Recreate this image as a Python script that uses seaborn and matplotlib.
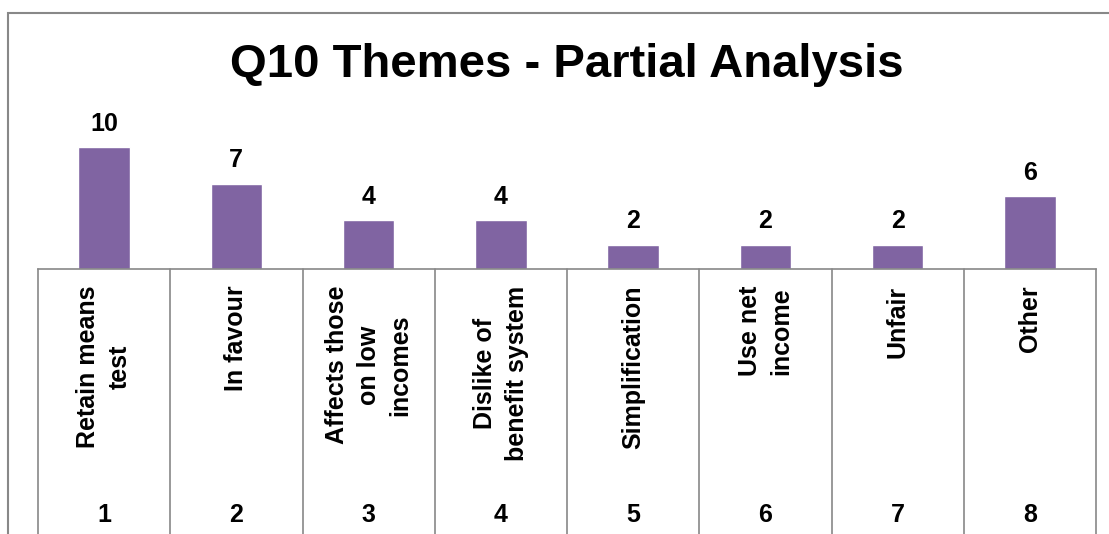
import matplotlib
matplotlib.use("Agg")
import matplotlib.pyplot as plt
import seaborn as sns
from matplotlib.patches import Rectangle

# chart data
themes = ["Retain means\ntest", "In favour", "Affects those\non low\nincomes",
          "Dislike of\nbenefit system", "Simplification", "Use net\nincome",
          "Unfair", "Other"]
theme_numbers = ["1", "2", "3", "4", "5", "6", "7", "8"]
counts = [10, 7, 4, 4, 2, 2, 2, 6]

bar_color = "#8064A2"
line_color = "#888888"

sns.set_style("white")
plt.rcParams["font.family"] = ["Liberation Sans", "DejaVu Sans"]
plt.rcParams["font.weight"] = "bold"
plt.rcParams["text.color"] = "black"
plt.rcParams["xtick.color"] = "black"

W, H = 1109, 534
fig = plt.figure(figsize=(W / 100, H / 100), dpi=100)

# plot area in pixel terms (from the top-left corner)
left, right, base = 38, 1096, 269
ymax = 12
px_per_unit = 12.2
top = base - ymax * px_per_unit
ax = fig.add_axes([left / W, 1 - base / H, (right - left) / W, (base - top) / H])

sns.barplot(x=list(range(len(counts))), y=counts, color=bar_color,
            width=0.39, saturation=1, ax=ax)
ax.set_xlim(-0.5, len(counts) - 0.5)
ax.set_ylim(0, ymax)

for c in ax.containers:
    ax.bar_label(c, fontsize=18, fontweight="bold", padding=8, clip_on=False,
                 color="black")

# category labels, rotated, hanging under the axis
ax.set_xticks(range(len(themes)))
ax.set_xticklabels(themes, rotation=90, fontsize=18, fontweight="bold",
                   linespacing=1.4, multialignment="center", color="black")
ax.tick_params(axis="x", length=0, pad=12)
ax.set_yticks([])
ax.set_xlabel("")
ax.set_ylabel("")

for s in ["left", "right", "top"]:
    ax.spines[s].set_visible(False)
ax.spines["bottom"].set_color(line_color)
ax.spines["bottom"].set_linewidth(1.2)

# divider lines between the categories, running down off the figure
tr = ax.get_xaxis_transform()
for k in range(len(themes) + 1):
    ax.plot([k - 0.5, k - 0.5], [0, -3], transform=tr, color=line_color,
            lw=1.2, clip_on=False)

# second level of the category axis
for i, n in enumerate(theme_numbers):
    ax.text(i, (base - 515) / (base - top), n, transform=tr, ha="center",
            va="center", fontsize=18, fontweight="bold", color="black")

# chart border
fig.patches.append(Rectangle((8 / W, -0.1), 1.2, 1.1 - 13 / H,
                             transform=fig.transFigure, fill=False,
                             edgecolor=line_color, lw=1.5))

fig.text(567 / W, 1 - 65 / H, "Q10 Themes - Partial Analysis",
         ha="center", va="center", fontsize=34, fontweight="bold",
         color="black")

fig.savefig("out.png", dpi=100)
